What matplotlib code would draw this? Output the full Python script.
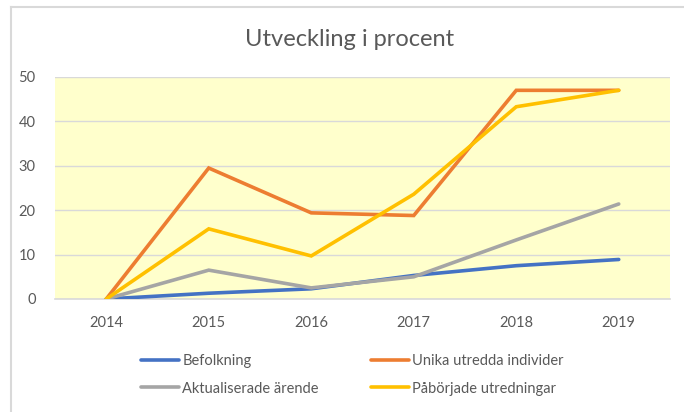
import matplotlib
matplotlib.use("Agg")
import matplotlib.pyplot as plt
from matplotlib.lines import Line2D

plt.rcParams['font.family'] = ['Lato', 'DejaVu Sans']

years = ["2014", "2015", "2016", "2017", "2018", "2019"]
befolkning = [0, 1.3, 2.3, 5.3, 7.5, 8.9]
unika = [0, 29.5, 19.4, 18.8, 47.0, 47.0]
aktualiserade = [0, 6.5, 2.5, 5.0, 13.3, 21.4]
paborjade = [0, 15.8, 9.7, 23.6, 43.3, 47.0]

series = [
    ("Befolkning", befolkning, "#4472C4"),
    ("Unika utredda individer", unika, "#ED7D31"),
    ("Aktualiserade ärende", aktualiserade, "#A5A5A5"),
    ("Påbörjade utredningar", paborjade, "#FFC000"),
]

W, H = 684, 412
fig = plt.figure(figsize=(W / 100, H / 100), dpi=100)
fig.patch.set_facecolor("white")

# outer chart border
fig.add_artist(Line2D([11 / W, 11 / W], [0, 1 - 7 / H], transform=fig.transFigure,
                      color="#d9d9d9", lw=1.5))
fig.add_artist(Line2D([11 / W, 1], [1 - 7 / H, 1 - 7 / H], transform=fig.transFigure,
                      color="#d9d9d9", lw=1.5))

left, right, top, bottom = 55, 670, 77, 299
ax = fig.add_axes([left / W, 1 - bottom / H, (right - left) / W, (bottom - top) / H])
ax.set_facecolor("#FFFFCC")

x = list(range(len(years)))
handles = {}
for name, vals, col in series:
    h, = ax.plot(x, vals, color=col, lw=2.6, solid_capstyle="round", solid_joinstyle="miter", zorder=3)
    handles[name] = h

ax.set_xlim(-0.5, len(years) - 0.5)
ax.set_ylim(0, 50)
ax.set_yticks([0, 10, 20, 30, 40, 50])
ax.set_xticks(x)
ax.set_xticklabels(years)
ax.grid(axis="y", color="#d9d9d9", lw=1.0, zorder=0)
ax.set_axisbelow(True)
for s in ["left", "right", "top"]:
    ax.spines[s].set_visible(False)
ax.spines["bottom"].set_color("#d9d9d9")
ax.spines["bottom"].set_linewidth(1.2)
ax.tick_params(axis="both", length=0, labelsize=10.5, labelcolor="#595959")
ax.tick_params(axis="x", pad=12)
ax.tick_params(axis="y", pad=14)

fig.text(350 / W, 1 - 40 / H, "Utveckling i procent", ha="center", va="center",
         fontsize=17, color="#595959")

order = ["Befolkning", "Aktualiserade ärende", "Unika utredda individer", "Påbörjade utredningar"]
fig.legend([handles[n] for n in order], order, ncol=2, loc="center",
           bbox_to_anchor=(0.5 * (145 + 560) / W, 1 - 375 / H), frameon=False,
           fontsize=10.5, labelcolor="#595959", handlelength=2.6, handletextpad=0.2,
           columnspacing=3.6, labelspacing=0.9)

fig.savefig("out.png", dpi=100, facecolor="white")
